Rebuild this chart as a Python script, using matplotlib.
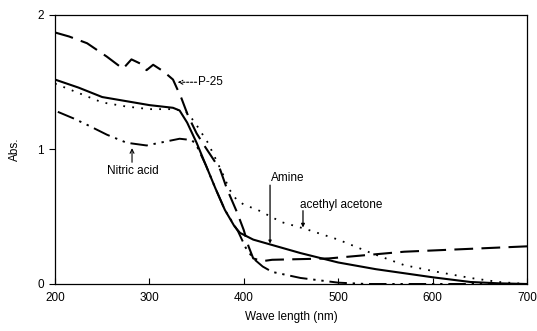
import matplotlib
matplotlib.use("Agg")
import matplotlib.pyplot as plt

plt.rcParams['font.family'] = ['Liberation Sans', 'DejaVu Sans']

# Data (wavelength in nm, absorbance)
p25_nm = [200, 215, 234, 255, 272, 281, 290, 297, 304, 315, 325, 334, 341, 350, 359,
          375, 382, 393, 400, 405, 410, 420, 430, 490, 570, 700]
p25_A = [1.87, 1.84, 1.79, 1.69, 1.60, 1.67, 1.64, 1.59, 1.63, 1.58, 1.52, 1.38, 1.25,
         1.12, 1.02, 0.85, 0.71, 0.53, 0.40, 0.28, 0.19, 0.17, 0.18, 0.19, 0.24, 0.28]

amine_nm = [200, 225, 250, 275, 300, 325, 332, 340, 350, 360, 370, 380, 390, 396,
            410, 430, 460, 500, 540, 570, 600, 640, 670, 700]
amine_A = [1.52, 1.46, 1.39, 1.36, 1.33, 1.31, 1.29, 1.20, 1.05, 0.88, 0.71, 0.55,
           0.43, 0.38, 0.33, 0.29, 0.23, 0.16, 0.11, 0.08, 0.05, 0.015, 0.005, 0.0]

acac_nm = [200, 225, 250, 275, 300, 325, 335, 341, 351, 362, 377, 385, 392, 400,
           415, 440, 465, 500, 535, 570, 605, 640, 670, 700]
acac_A = [1.49, 1.42, 1.35, 1.32, 1.30, 1.30, 1.29, 1.27, 1.17, 1.05, 0.83, 0.70,
          0.63, 0.59, 0.55, 0.46, 0.41, 0.33, 0.23, 0.14, 0.09, 0.045, 0.015, 0.0]

nitric_nm = [203, 220, 235, 255, 276, 297, 318, 332, 345, 350, 360, 370, 380, 394,
             402, 410, 420, 430, 460, 500, 530, 600, 700]
nitric_A = [1.28, 1.23, 1.18, 1.11, 1.05, 1.03, 1.06, 1.08, 1.07, 1.03, 0.88, 0.71,
            0.55, 0.39, 0.27, 0.19, 0.13, 0.09, 0.045, 0.01, 0.0, 0.0, 0.0]

x_ticks = [200, 300, 400, 500, 600, 700]
y_ticks = [0, 1, 2]

fig = plt.figure(figsize=(5.37, 3.31), dpi=100)
ax = fig.add_axes([0.1024, 0.142, 0.879, 0.8127])

ax.plot(p25_nm, p25_A, color='black', lw=1.5, linestyle=(0, (9, 4)))
ax.plot(nitric_nm, nitric_A, color='black', lw=1.4, linestyle=(0, (9, 3, 1.2, 3, 1.2, 3)))
ax.plot(amine_nm, amine_A, color='black', lw=1.5, linestyle='-')
ax.plot(acac_nm, acac_A, color='black', lw=1.3, linestyle=(0, (1, 4)))

ax.set_xlim(200, 700)
ax.set_ylim(0, 2)
ax.set_xticks(x_ticks)
ax.set_yticks(y_ticks)
ax.tick_params(axis='x', direction='in', length=4, labelsize=8.5, pad=6)
ax.tick_params(axis='y', direction='out', length=4, labelsize=8.5, pad=4)
for s in ax.spines.values():
    s.set_linewidth(0.9)
    s.set_color('black')

ax.set_xlabel('Wave length (nm)', fontsize=8.5, labelpad=5)
ax.set_ylabel('Abs.', fontsize=8.5, labelpad=12)

fs = 8.5
# P-25 label with dashed leader
ax.text(351, 1.50, 'P-25', fontsize=fs, va='center', ha='left')
ax.annotate('', xy=(330, 1.50), xytext=(350, 1.50),
            arrowprops=dict(arrowstyle='->', lw=0.8, linestyle=(0, (2, 1.5)),
                            color='black', shrinkA=0, shrinkB=0,
                            mutation_scale=7))
# Nitric acid
ax.text(282.6, 0.84, 'Nitric acid', fontsize=fs, va='center', ha='center')
ax.annotate('', xy=(281.6, 1.01), xytext=(281.6, 0.905),
            arrowprops=dict(arrowstyle='->', lw=0.8, color='black',
                            shrinkA=0, shrinkB=0, mutation_scale=7))
# Amine
ax.text(446, 0.79, 'Amine', fontsize=fs, va='center', ha='center')
ax.annotate('', xy=(427.8, 0.30), xytext=(427.8, 0.735),
            arrowprops=dict(arrowstyle='-|>', lw=0.9, color='black',
                            shrinkA=0, shrinkB=0, mutation_scale=4))
# acethyl acetone
ax.text(503, 0.587, 'acethyl acetone', fontsize=fs, va='center', ha='center')
ax.annotate('', xy=(462.7, 0.42), xytext=(462.7, 0.545),
            arrowprops=dict(arrowstyle='-|>', lw=0.9, color='black',
                            shrinkA=0, shrinkB=0, mutation_scale=5))

fig.savefig('out.png', dpi=100)
